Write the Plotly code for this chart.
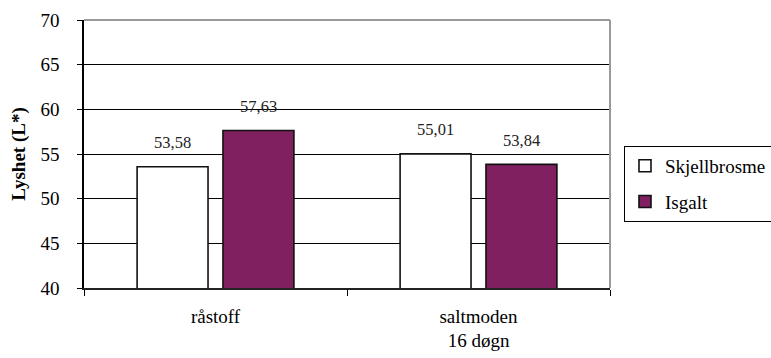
import plotly.graph_objects as go

# Lightness measurements (L*) per processing stage
categories = ["råstoff", "saltmoden<br>16 døgn"]
skjellbrosme = [53.58, 55.01]
isgalt = [57.63, 53.84]
series_names = ["Skjellbrosme", "Isgalt"]
y_ticks = [40, 45, 50, 55, 60, 65, 70]

SERIF = "Times New Roman, Liberation Serif, serif"
PURPLE = "#802060"
BARGAP = 0.347
BARGROUPGAP = 0.174


def fmt(v):
    return f"{v:.2f}".replace(".", ",")


fig = go.Figure()
fig.add_trace(go.Bar(
    x=categories, y=skjellbrosme, name=series_names[0],
    marker=dict(color="white", line=dict(color="#111111", width=1.6)),
    legendgroup="a",
))
fig.add_trace(go.Bar(
    x=categories, y=isgalt, name=series_names[1],
    marker=dict(color=PURPLE, line=dict(color="#111111", width=1.6)),
    legendgroup="b",
))

# value labels above each bar, in Norwegian decimal format
slot = (1 - BARGAP) / 2
annotations = []
for si, series in enumerate([skjellbrosme, isgalt]):
    offset = (si - 0.5) * slot
    for ci, v in enumerate(series):
        annotations.append(dict(
            x=ci + offset, y=v, xref="x", yref="y", text=fmt(v),
            showarrow=False, yshift=24, yanchor="middle",
            font=dict(family=SERIF, size=16.5, color="#222222"),
        ))

fig.update_layout(
    width=771, height=358,
    margin=dict(l=84, r=161, t=20, b=70, autoexpand=False),
    paper_bgcolor="white", plot_bgcolor="white",
    barmode="group", bargap=BARGAP, bargroupgap=BARGROUPGAP,
    font=dict(family=SERIF, size=19, color="black"),
    annotations=annotations,
    legend=dict(
        x=1.0266, y=0.53, xanchor="left", yanchor="top",
        bordercolor="black", borderwidth=1,
        font=dict(family=SERIF, size=19, color="black"),
        traceorder="grouped", tracegroupgap=8,
        bgcolor="white",
    ),
    shapes=[
        dict(type="line", xref="paper", yref="paper", x0=0, x1=1, y0=1, y1=1,
             line=dict(color="#999999", width=2), layer="above"),
        dict(type="line", xref="paper", yref="paper", x0=1, x1=1, y0=0, y1=1,
             line=dict(color="#999999", width=2), layer="above"),
    ],
)

fig.update_xaxes(
    type="category", showline=True, linecolor="#222222", linewidth=1.5,
    ticks="outside", tickson="boundaries", ticklen=6, tickcolor="black",
    tickfont=dict(family=SERIF, size=19, color="black"),
    ticklabelstandoff=10, showgrid=False, automargin=False,
)
fig.update_yaxes(
    range=[40, 70], tickvals=y_ticks, showline=True, linecolor="black",
    linewidth=1.5, ticks="outside", ticklen=5, tickcolor="black",
    tickfont=dict(family=SERIF, size=19, color="black"),
    ticklabelstandoff=14, automargin=False,
    showgrid=True, gridcolor="black", gridwidth=1, zeroline=False,
    title=dict(text="<b>Lyshet (L*)</b>",
               font=dict(family=SERIF, size=19, color="black"), standoff=10),
)

fig.write_html("out.html")
